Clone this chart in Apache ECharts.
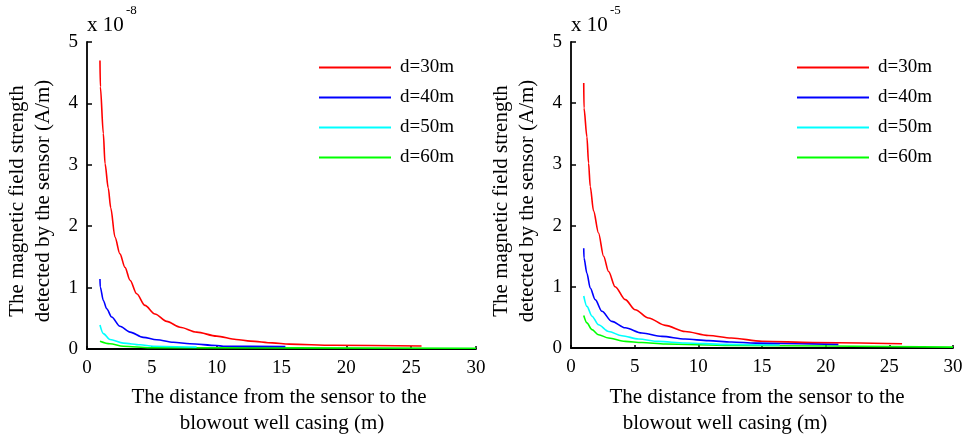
<!DOCTYPE html>
<html>
<head>
<meta charset="utf-8">
<script src="https://cdn.jsdelivr.net/npm/echarts@6/dist/echarts.min.js"></script>
<style>
  html, body { margin: 0; padding: 0; background: #ffffff; }
  #chart { width: 967px; height: 437px; }
</style>
</head>
<body>
<div id="chart"></div>
<script>
// Legend names, shared by both panels
const seriesNames = ['d=30m', 'd=40m', 'd=50m', 'd=60m'];
const seriesColors = ['#ff0000', '#0000ff', '#00ffff', '#00ff00'];
const xTicks = [0, 5, 10, 15, 20, 25, 30];
const yTicks = [0, 1, 2, 3, 4, 5];

// Left panel (values in units of 1e-8 A/m)
const leftExponent = '-8';
const leftX30 = [1.0, 1.03, 1.26, 1.39, 1.64, 1.83, 2.16, 2.54, 2.93, 3.32, 3.83, 4.47, 5.24, 6.15, 7.17, 8.46, 10.0, 11.5, 12.6, 14.3, 15.6, 19.0, 25.8];
const leftY30 = [4.70, 4.27, 3.51, 3.02, 2.62, 2.30, 1.82, 1.55, 1.33, 1.12, 0.90, 0.71, 0.57, 0.45, 0.355, 0.275, 0.21, 0.155, 0.128, 0.10, 0.08, 0.06, 0.05];
const leftX40 = [1.0, 1.02, 1.26, 1.52, 1.9, 2.54, 3.32, 4.34, 5.37, 6.66, 7.94, 10.0, 10.5, 15.3];
const leftY40 = [1.14, 1.01, 0.79, 0.655, 0.52, 0.37, 0.275, 0.19, 0.15, 0.11, 0.085, 0.057, 0.045, 0.04];
const leftX50 = [1.0, 1.26, 1.77, 2.8, 4.1, 5.1, 8.45];
const leftY50 = [0.39, 0.25, 0.155, 0.095, 0.068, 0.046, 0.03];
const leftX60 = [1.0, 1.77, 2.8, 4.86, 30];
const leftY60 = [0.127, 0.085, 0.046, 0.02, 0.012];

// Right panel (values in units of 1e-5 A/m)
const rightExponent = '-5';
const rightX30 = [1.0, 1.02, 1.25, 1.38, 1.51, 1.77, 2.16, 2.56, 2.95, 3.47, 4.26, 5.04, 6.09, 7.4, 8.96, 10.8, 12.6, 15.0, 19.0, 26.0];
const rightY30 = [4.33, 3.92, 3.45, 3.02, 2.64, 2.24, 1.88, 1.50, 1.25, 1.0, 0.79, 0.625, 0.49, 0.37, 0.27, 0.205, 0.163, 0.11, 0.09, 0.07];
const rightX40 = [1.0, 1.02, 1.25, 1.51, 1.9, 2.43, 3.2, 4.26, 5.57, 7.14, 8.96, 10.8, 12.6, 14.5, 21.0];
const rightY40 = [1.63, 1.47, 1.22, 0.98, 0.79, 0.60, 0.435, 0.33, 0.245, 0.19, 0.147, 0.12, 0.098, 0.08, 0.06];
const rightX50 = [1.0, 1.25, 1.65, 2.16, 2.95, 4.0, 5.3, 6.87, 8.96, 12.0, 16.4];
const rightY50 = [0.85, 0.68, 0.52, 0.38, 0.27, 0.20, 0.147, 0.108, 0.082, 0.06, 0.05];
const rightX60 = [1.0, 1.25, 1.65, 2.16, 2.95, 4.26, 5.57, 7.4, 12.5, 30];
const rightY60 = [0.53, 0.41, 0.30, 0.217, 0.163, 0.108, 0.09, 0.065, 0.04, 0.015];

const xTitleLine1 = 'The distance from the sensor to the';
const xTitleLine2 = 'blowout well casing (m)';
const yTitleLine1 = 'The magnetic field strength';
const yTitleLine2 = 'detected by the sensor (A/m)';

const FONT = '"Liberation Serif", "Times New Roman", serif';

function pairs(xs, ys) {
  return xs.map((x, i) => [x, ys[i]]);
}

const panels = [
  { grid: { left: 87, top: 42, width: 389, height: 307 },
    xs: [leftX30, leftX40, leftX50, leftX60], ys: [leftY30, leftY40, leftY50, leftY60],
    exponent: leftExponent, legendLeft: 314, titleX1: 279, titleX2: 282 },
  { grid: { left: 571, top: 42, width: 382, height: 306 },
    xs: [rightX30, rightX40, rightX50, rightX60], ys: [rightY30, rightY40, rightY50, rightY60],
    exponent: rightExponent, legendLeft: 792, titleX1: 757, titleX2: 725 }
];

const axisLine = { show: true, lineStyle: { color: '#000', width: 1.8 } };

const option = {
  backgroundColor: '#ffffff',
  animation: false,
  grid: panels.map(p => Object.assign({ containLabel: false }, p.grid)),
  xAxis: panels.map((p, i) => ({
    type: 'value', gridIndex: i, min: xTicks[0], max: xTicks[xTicks.length - 1], interval: 5,
    axisLine: axisLine,
    axisTick: { show: true, inside: true, length: 3, lineStyle: { color: '#000', width: 1.5 } },
    axisLabel: { color: '#000', fontFamily: FONT, fontSize: 19, margin: 10 },
    splitLine: { show: false }
  })),
  yAxis: panels.map((p, i) => ({
    type: 'value', gridIndex: i, min: yTicks[0], max: yTicks[yTicks.length - 1], interval: 1,
    axisLine: axisLine,
    axisTick: { show: true, inside: true, length: 5, lineStyle: { color: '#000', width: 1.5 } },
    axisLabel: { color: '#000', fontFamily: FONT, fontSize: 19, margin: 9 },
    splitLine: { show: false }
  })),
  legend: panels.map(p => ({
    data: seriesNames,
    orient: 'vertical',
    left: p.legendLeft,
    top: 53,
    itemGap: 11,
    itemWidth: 72,
    itemHeight: 2,
    icon: 'rect',
    selectedMode: false,
    textStyle: { color: '#000', fontFamily: FONT, fontSize: 19, padding: [0, 0, 0, 4] }
  })),
  series: [],
  graphic: []
};

panels.forEach((p, pi) => {
  seriesNames.forEach((name, si) => {
    option.series.push({
      type: 'line', name: name, xAxisIndex: pi, yAxisIndex: pi,
      data: pairs(p.xs[si], p.ys[si]),
      showSymbol: false, symbol: 'none', smooth: 0.3, smoothMonotone: 'x',
      color: seriesColors[si],
      lineStyle: { color: seriesColors[si], width: 1.6 },
      z: 10 - si
    });
  });
  const gx = p.grid.left;
  const cy = 201;
  // exponent marker above the y axis
  option.graphic.push({
    type: 'text', left: gx, top: 15,
    style: { text: 'x 10', fill: '#000', font: '21px ' + FONT }
  });
  option.graphic.push({
    type: 'text', left: gx + 39, top: 4,
    style: { text: p.exponent, fill: '#000', font: '13px ' + FONT }
  });
  // x-axis title, two lines
  option.graphic.push({
    type: 'text', x: p.titleX1, y: 397,
    style: { text: xTitleLine1, fill: '#000', font: '21px ' + FONT, align: 'center', verticalAlign: 'middle' }
  });
  option.graphic.push({
    type: 'text', x: p.titleX2, y: 423,
    style: { text: xTitleLine2, fill: '#000', font: '21px ' + FONT, align: 'center', verticalAlign: 'middle' }
  });
  // y-axis title, two rotated lines
  option.graphic.push({
    type: 'text', x: gx - 70, y: cy, rotation: Math.PI / 2,
    style: { text: yTitleLine1, fill: '#000', font: '21px ' + FONT, align: 'center', verticalAlign: 'middle' }
  });
  option.graphic.push({
    type: 'text', x: gx - 44, y: cy, rotation: Math.PI / 2,
    style: { text: yTitleLine2, fill: '#000', font: '21px ' + FONT, align: 'center', verticalAlign: 'middle' }
  });
});

const chart = echarts.init(document.getElementById('chart'), null, { renderer: 'canvas' });
chart.setOption(option);
</script>
</body>
</html>
